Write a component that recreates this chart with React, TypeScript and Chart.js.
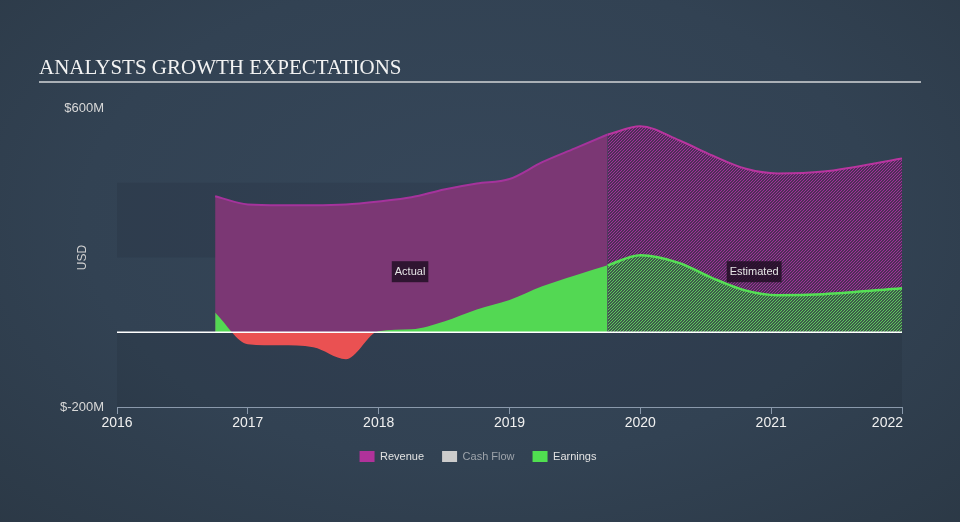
import React, { useEffect, useRef } from 'react';
import { Chart, registerables } from 'chart.js';

Chart.register(...registerables);

// ---- data ----
const X_MIN = 2016;
const X_MAX = 2022;
const Y_MIN = -200;
const Y_MAX = 600;
const Y_STEP = 200;
const Y_LABELS: Record<string, string> = { '600': '$600M', '-200': '$-200M' };

const ACTUAL_X = [2016.75, 2017.0, 2017.25, 2017.5, 2017.75, 2018.0, 2018.25, 2018.5, 2018.75, 2019.0, 2019.25, 2019.5, 2019.75];
const REVENUE_ACTUAL = [364, 342, 340, 340, 342, 350, 361, 382, 398, 410, 455, 492, 529];
const EARNINGS_ACTUAL = [53, -32, -35, -40, -72, 3, 8, 29, 61, 86, 123, 152, 179];

const EST_X = [2019.75, 2020.0, 2020.3, 2020.55, 2020.8, 2021.05, 2021.4, 2022.0];
const REVENUE_EST = [529, 551, 513, 473, 438, 425, 430, 465];
const EARNINGS_EST = [179, 206, 185, 145, 112, 99, 102, 118];

const BANDS = [[-200, 0], [200, 400]];
const REGION_LABELS = [
  { text: 'Actual', x: 2018.24, y: 162 },
  { text: 'Estimated', x: 2020.87, y: 162 },
];
const LEGEND = [
  { text: 'Revenue', color: '#b0329a', font: '#e2e2e2' },
  { text: 'Cash Flow', color: '#cccccc', font: '#9ea4ab' },
  { text: 'Earnings', color: '#50e050', font: '#e2e2e2' },
];
const TITLE = 'ANALYSTS GROWTH EXPECTATIONS';

const SANS = '"Liberation Sans", Arial, sans-serif';

function hatch(bg: string, fg: string): CanvasPattern | string {
  const c = document.createElement('canvas');
  c.width = 3;
  c.height = 3;
  const g = c.getContext('2d');
  if (!g) return bg;
  g.fillStyle = bg;
  g.fillRect(0, 0, 3, 3);
  g.fillStyle = fg;
  for (let x = 0; x < 3; x++) {
    for (let y = 0; y < 3; y++) {
      if ((x + y) % 3 === 2) g.fillRect(x, y, 1, 1);
    }
  }
  const p = g.createPattern(c, 'repeat');
  return p || bg;
}

const pts = (xs: number[], ys: number[]) => xs.map((x, i) => ({ x, y: ys[i] }));

const decorPlugin = {
  id: 'decor',
  beforeDatasetsDraw(chart: any) {
    const { ctx, chartArea, scales } = chart;
    const y = scales.y;
    ctx.save();
    ctx.fillStyle = 'rgba(10,16,26,0.09)';
    BANDS.forEach(([a, b]) => {
      const y1 = y.getPixelForValue(b);
      const y2 = y.getPixelForValue(a);
      ctx.fillRect(chartArea.left, y1, chartArea.right - chartArea.left, y2 - y1);
    });
    ctx.restore();
  },
  afterDatasetsDraw(chart: any) {
    const { ctx, chartArea, scales } = chart;
    const x = scales.x;
    const y = scales.y;
    ctx.save();
    // zero line
    const y0 = y.getPixelForValue(0);
    ctx.strokeStyle = '#ffffff';
    ctx.lineWidth = 1.5;
    ctx.beginPath();
    ctx.moveTo(chartArea.left, y0);
    ctx.lineTo(chartArea.right, y0);
    ctx.stroke();
    // region labels
    ctx.font = `11px ${SANS}`;
    ctx.textAlign = 'center';
    ctx.textBaseline = 'middle';
    REGION_LABELS.forEach((l) => {
      const px = x.getPixelForValue(l.x);
      const py = y.getPixelForValue(l.y);
      const w = ctx.measureText(l.text).width + 6;
      ctx.fillStyle = 'rgba(30,14,34,0.82)';
      ctx.fillRect(px - w / 2, py - 10.5, w, 21);
      ctx.fillStyle = '#e6e6e6';
      ctx.fillText(l.text, px, py + 0.5);
    });
    ctx.restore();
  },
  afterDraw(chart: any) {
    const { ctx, scales } = chart;
    const x = scales.x;
    ctx.save();
    // title
    ctx.font = `21px "Liberation Serif", "Times New Roman", serif`;
    ctx.fillStyle = '#f2f2f2';
    ctx.textAlign = 'left';
    ctx.textBaseline = 'alphabetic';
    ctx.fillText(TITLE, 39, 74);
    ctx.fillStyle = '#aab0b6';
    ctx.fillRect(39, 81, 882, 2);
    // x tick labels
    ctx.font = `14px ${SANS}`;
    ctx.fillStyle = '#f0f0f0';
    const ticks = x.ticks;
    ticks.forEach((t: any, i: number) => {
      const px = x.getPixelForValue(t.value);
      const last = i === ticks.length - 1;
      ctx.textAlign = last ? 'right' : 'center';
      ctx.fillText(String(t.value), last ? px + 1 : px, 427);
    });
    ctx.restore();
  },
  afterLayout(chart: any) {
    const lg = chart.legend;
    if (lg) {
      lg.left = 0;
      lg.right = 956;
    }
  },
};

export default function App() {
  const ref = useRef<HTMLCanvasElement | null>(null);

  useEffect(() => {
    if (!ref.current) return;
    const revHatch = hatch('#4e2f58', '#a0309a');
    const earnHatch = hatch('#3d5a4a', '#5cc85c');

    const chart = new Chart(ref.current, {
      type: 'line',
      data: {
        datasets: [
          {
            label: 'Earnings actual',
            data: pts(ACTUAL_X, EARNINGS_ACTUAL),
            borderWidth: 0,
            borderColor: 'rgba(0,0,0,0)',
            fill: { target: 'origin', above: '#53d853', below: '#ea5152' },
            pointRadius: 0,
            cubicInterpolationMode: 'monotone',
          },
          {
            label: 'Earnings estimated',
            data: pts(EST_X, EARNINGS_EST),
            borderWidth: 2.5,
            borderColor: '#55e055',
            backgroundColor: earnHatch as any,
            fill: 'origin',
            pointRadius: 0,
            cubicInterpolationMode: 'monotone',
          },
          {
            label: 'Revenue actual',
            data: pts(ACTUAL_X, REVENUE_ACTUAL),
            borderWidth: 2,
            borderColor: '#a5339c',
            backgroundColor: '#7b3774',
            fill: 'origin',
            pointRadius: 0,
            cubicInterpolationMode: 'monotone',
          },
          {
            label: 'Revenue estimated',
            data: pts(EST_X, REVENUE_EST),
            borderWidth: 2,
            borderColor: '#b8359f',
            backgroundColor: revHatch as any,
            fill: 1,
            pointRadius: 0,
            cubicInterpolationMode: 'monotone',
          },
        ],
      },
      options: {
        responsive: false,
        animation: false,
        devicePixelRatio: 1,
        layout: { padding: { left: 0, right: 58, top: 108, bottom: 50 } },
        plugins: {
          tooltip: { enabled: false },
          title: { display: false },
          legend: {
            display: true,
            position: 'bottom',
            onClick: () => {},
            labels: {
              boxWidth: 15,
              boxHeight: 11,
              padding: 18,
              font: { size: 11, family: SANS },
              color: '#e2e2e2',
              generateLabels: () =>
                LEGEND.map((l, i) => ({
                  text: l.text,
                  fillStyle: l.color,
                  strokeStyle: l.color,
                  lineWidth: 0,
                  fontColor: l.font,
                  hidden: false,
                  datasetIndex: i,
                })) as any,
            },
          },
        },
        scales: {
          x: {
            type: 'linear',
            min: X_MIN,
            max: X_MAX,
            ticks: { stepSize: 1, display: false },
            grid: {
              display: true,
              drawOnChartArea: false,
              drawTicks: true,
              tickLength: 7,
              color: '#8a99ab',
              lineWidth: 1,
            },
            border: { display: true, color: '#8a99ab', width: 1 },
            afterFit: (s: any) => {
              s.height = 26;
            },
          },
          y: {
            type: 'linear',
            min: Y_MIN,
            max: Y_MAX,
            ticks: {
              stepSize: Y_STEP,
              padding: 13,
              color: '#d8d8d8',
              font: { size: 13, family: SANS },
              callback: (v: any) => Y_LABELS[String(v)] || '',
            },
            grid: { display: false, drawTicks: false },
            border: { display: false },
            title: {
              display: true,
              text: 'USD',
              color: '#d0d0d0',
              font: { size: 12, family: SANS },
              padding: { top: 75, bottom: 0 },
            },
            afterFit: (s: any) => {
              s.width = 117;
            },
          },
        },
      } as any,
      plugins: [decorPlugin],
    });
    return () => chart.destroy();
  }, []);

  return (
    <div
      style={{
        position: 'fixed',
        left: 0,
        top: 0,
        width: 960,
        height: 522,
        background:
          'radial-gradient(ellipse 75% 85% at 50% 42%, #36475a 0%, #324253 55%, #2b3845 100%)',
      }}
    >
      <canvas ref={ref} width={960} height={522} style={{ display: 'block' }} />
    </div>
  );
}
